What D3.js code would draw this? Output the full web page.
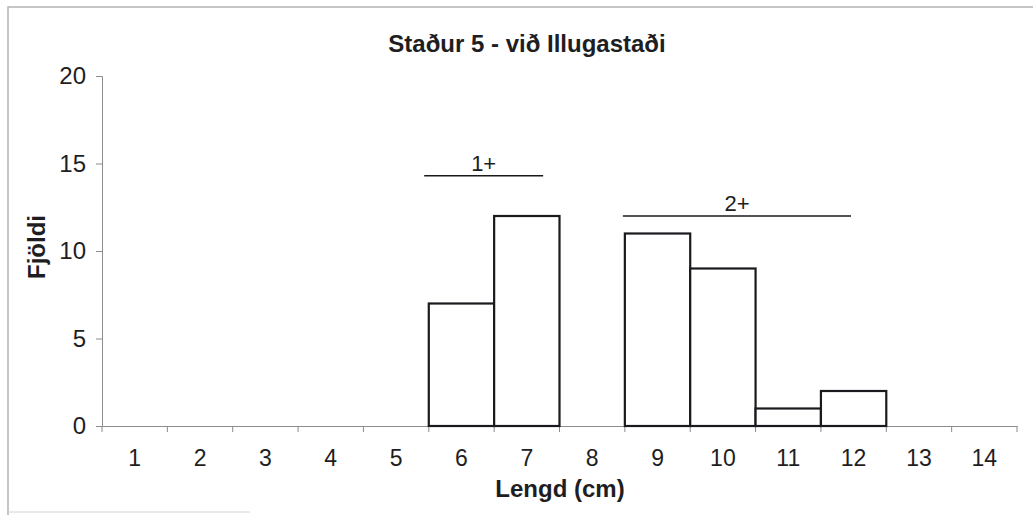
<!DOCTYPE html>
<html>
<head>
<meta charset="utf-8">
<script src="https://cdn.jsdelivr.net/npm/d3@7"></script>
<style>
  body { margin: 0; background: #fff; }
  svg text { font-family: "Liberation Sans", Arial, sans-serif; fill: #1e1e22; }
</style>
</head>
<body>
<div id="chart"></div>
<script>
// Data
const categories = [1, 2, 3, 4, 5, 6, 7, 8, 9, 10, 11, 12, 13, 14];
const counts = [0, 0, 0, 0, 0, 7, 12, 0, 11, 9, 1, 2, 0, 0];
const yTicks = [0, 5, 10, 15, 20];

// age group brackets (in length units)
const groupLabels = ["1+", "2+"];
const groupStart = [5.43, 8.47];
const groupEnd = [7.25, 11.96];
const groupLevel = [14.3, 12.0];

const W = 1033, H = 515;
const margin = { top: 76, right: 16, bottom: 89, left: 102 };
const width = W - margin.left - margin.right;
const height = H - margin.top - margin.bottom;

const svg = d3.select("#chart")
  .append("svg")
  .attr("width", W)
  .attr("height", H);

// scanned page frame
svg.append("path")
  .attr("d", "M8,515 V7 H1033")
  .attr("fill", "none")
  .attr("stroke", "#b4b4b8")
  .attr("stroke-width", 1.5);
svg.append("line")
  .attr("x1", 8).attr("x2", 250).attr("y1", 512).attr("y2", 512)
  .attr("stroke", "#d4d4d8");

const g = svg.append("g")
  .attr("transform", `translate(${margin.left}, ${margin.top})`);

const xScale = d3.scaleBand()
  .domain(categories)
  .range([0, width])
  .padding(0);

// continuous version of the category axis for the brackets
const xPos = d3.scaleLinear()
  .domain([0.5, categories.length + 0.5])
  .range([0, width]);

const yScale = d3.scaleLinear()
  .domain([0, 20])
  .range([height, 0]);

// y axis
const yAxis = g.append("g")
  .call(d3.axisLeft(yScale).tickValues(yTicks).tickSize(6).tickPadding(10));
yAxis.selectAll("text").style("font-size", "24px");

// x axis, ticks on band edges
const xAxis = g.append("g")
  .attr("transform", `translate(0, ${height})`)
  .call(d3.axisBottom(xScale).tickSize(0).tickPadding(24));
xAxis.selectAll("text").style("font-size", "23px");
g.append("g")
  .selectAll("line")
  .data(d3.range(categories.length + 1))
  .join("line")
  .attr("x1", d => xPos(d + 0.5))
  .attr("x2", d => xPos(d + 0.5))
  .attr("y1", height)
  .attr("y2", height + 6)
  .attr("stroke", "#8c8c90");

g.selectAll(".domain").attr("stroke", "#8c8c90");
g.selectAll(".tick line").attr("stroke", "#8c8c90");

// bars
g.selectAll(".bar")
  .data(categories.map((c, i) => ({ c, v: counts[i] })).filter(d => d.v > 0))
  .join("rect")
  .attr("class", "bar")
  .attr("x", d => xScale(d.c))
  .attr("y", d => yScale(d.v))
  .attr("width", xScale.bandwidth())
  .attr("height", d => height - yScale(d.v))
  .attr("fill", "#fff")
  .attr("stroke", "#1a1a1e")
  .attr("stroke-width", 2.2);

// age group brackets
groupLabels.forEach((lab, i) => {
  g.append("line")
    .attr("x1", xPos(groupStart[i]))
    .attr("x2", xPos(groupEnd[i]))
    .attr("y1", yScale(groupLevel[i]))
    .attr("y2", yScale(groupLevel[i]))
    .attr("stroke", "#1a1a1e")
    .attr("stroke-width", 1.5);
  g.append("text")
    .attr("x", (xPos(groupStart[i]) + xPos(groupEnd[i])) / 2)
    .attr("y", yScale(groupLevel[i]) - 5)
    .attr("text-anchor", "middle")
    .style("font-size", "22px")
    .text(lab);
});

// titles
svg.append("text")
  .attr("x", 527)
  .attr("y", 52)
  .attr("text-anchor", "middle")
  .style("font-size", "24px")
  .style("font-weight", "bold")
  .text("Staður 5 - við Illugastaði");

svg.append("text")
  .attr("x", 560)
  .attr("y", 497)
  .attr("text-anchor", "middle")
  .style("font-size", "24px")
  .style("font-weight", "bold")
  .text("Lengd (cm)");

svg.append("text")
  .attr("transform", "translate(45, 247) rotate(-90)")
  .attr("text-anchor", "middle")
  .style("font-size", "24px")
  .style("font-weight", "bold")
  .text("Fjöldi");
</script>
</body>
</html>
